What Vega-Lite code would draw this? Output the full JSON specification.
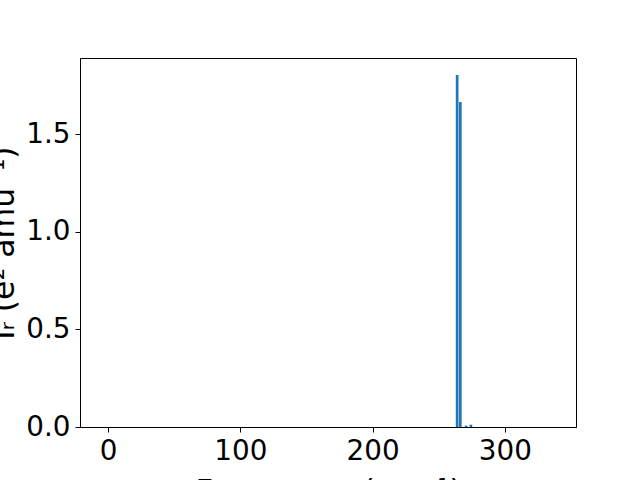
{
  "$schema": "https://vega.github.io/schema/vega-lite/v6.json",
  "autosize": {"type": "none"},
  "width": 496,
  "height": 369,
  "padding": {"left": 80, "top": 58, "right": 64, "bottom": 53},
  "background": "white",
  "config": {
    "font": "DejaVu Sans",
    "view": {"stroke": "black", "strokeWidth": 1},
    "axis": {
      "grid": false,
      "domainColor": "black",
      "tickColor": "black",
      "labelColor": "black",
      "titleColor": "black",
      "labelFont": "DejaVu Sans",
      "titleFont": "DejaVu Sans",
      "labelFontSize": 27.8,
      "titleFontWeight": "normal",
      "tickSize": 5,
      "labelPadding": 5
    }
  },
  "data": {
    "values": [
      {"freq": 263.9, "intensity": 1.805},
      {"freq": 266.3, "intensity": 1.667},
      {"freq": 270.7, "intensity": 0.007},
      {"freq": 274.3, "intensity": 0.012}
    ]
  },
  "mark": {"type": "bar", "size": 2.7, "color": "#1f77b4"},
  "encoding": {
    "x": {
      "field": "freq",
      "type": "quantitative",
      "scale": {"domain": [-17.5, 350], "nice": false, "zero": false},
      "axis": {
        "values": [0, 100, 200, 300],
        "title": "Frequency (cm⁻¹)",
        "titleFontSize": 30.5,
        "titleBaseline": "alphabetic",
        "titleY": 73,
        "labelFlush": false
      }
    },
    "y": {
      "field": "intensity",
      "type": "quantitative",
      "scale": {"domain": [0, 1.892], "nice": false},
      "axis": {
        "values": [0, 0.5, 1.0, 1.5],
        "format": ".1f",
        "title": "Iᵣ (e² amu⁻¹)",
        "titleFontSize": 31.5,
        "titleAngle": -90,
        "titleBaseline": "alphabetic",
        "titleX": -67,
        "titleY": 184.5,
        "labelFlush": false
      }
    }
  }
}
